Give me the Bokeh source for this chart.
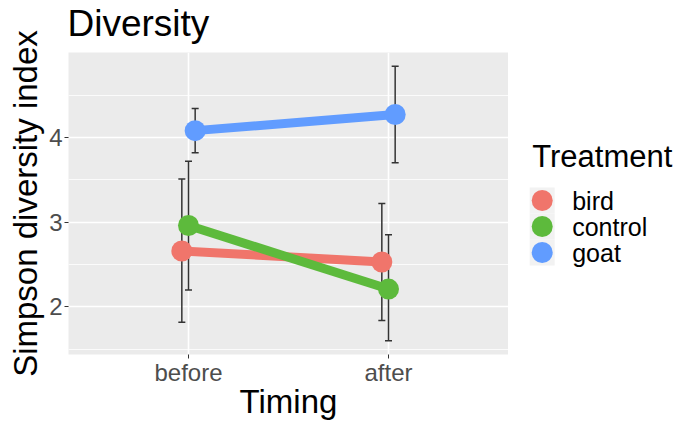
import math
from bokeh.plotting import figure
from bokeh.models import Range1d, FixedTicker, Whisker, ColumnDataSource, TeeHead
from bokeh.layouts import row, column
from bokeh.core.properties import value
from bokeh.embed import file_html
from bokeh.resources import INLINE

# ---- data ----
timing = ["before", "after"]
treatments = ["bird", "control", "goat"]
colors = ["#F0756B", "#5DBA3C", "#619CFF"]

bird_mean = [2.66, 2.53]
bird_lower = [1.82, 1.84]
bird_upper = [3.51, 3.22]

control_mean = [2.96, 2.21]
control_lower = [2.20, 1.60]
control_upper = [3.72, 2.85]

goat_mean = [4.08, 4.27]
goat_lower = [3.82, 3.70]
goat_upper = [4.34, 4.84]

y_ticks = [2, 3, 4]
y_minor = [1.5, 2.5, 3.5, 4.5]

means = [bird_mean, control_mean, goat_mean]
lowers = [bird_lower, control_lower, goat_lower]
uppers = [bird_upper, control_upper, goat_upper]

title_text = "Diversity"
x_title = "Timing"
y_title = "Simpson diversity index"
legend_title = "Treatment"

FONT = "Liberation Sans"
dodge_width = 0.1
FW, FH = 440, 302          # panel size
YL = 45                    # strip holding the y-axis title
LEFT, TOP, BOTTOM = 23, 52, 70
LW = 167
TOTAL_H = TOP + FH + BOTTOM


def bare(fig):
    fig.axis.visible = False
    fig.grid.visible = False
    fig.outline_line_color = None
    fig.background_fill_color = "white"
    fig.border_fill_color = "white"


# ---- y-axis title strip (full height, so the long title is never cut) ----
yf = figure(frame_width=YL, frame_height=TOTAL_H, x_range=Range1d(0, YL), y_range=Range1d(TOTAL_H, 0),
            output_backend="svg", toolbar_location=None,
            min_border_left=0, min_border_right=0, min_border_top=0, min_border_bottom=0)
bare(yf)
yf.text(x=[25], y=[TOP + FH / 2], text=[y_title], angle=math.pi / 2, text_font=value(FONT),
        text_font_size="33px", text_baseline="middle", text_align="center", text_color="black")

# ---- title strip ----
TW = LEFT + FW + LW
tf = figure(frame_width=TW, frame_height=TOP, x_range=Range1d(0, TW), y_range=Range1d(TOP, 0),
            output_backend="svg", toolbar_location=None,
            min_border_left=0, min_border_right=0, min_border_top=0, min_border_bottom=0)
bare(tf)
tf.text(x=[LEFT - 1], y=[23.4], text=[title_text], text_font=value(FONT),
        text_font_size="37px", text_baseline="middle", text_align="left", text_color="black")

# ---- main panel ----
p = figure(frame_width=FW, frame_height=FH,
           x_range=Range1d(0.4, 2.6), y_range=Range1d(1.438, 5.002),
           output_backend="svg", toolbar_location=None,
           min_border_left=LEFT, min_border_right=0, min_border_top=0, min_border_bottom=BOTTOM)
p.background_fill_color = "#EBEBEB"
p.border_fill_color = "white"
p.outline_line_color = None

# grids
p.xgrid.ticker = FixedTicker(ticks=[i + 1 for i in range(len(timing))])
p.xgrid.grid_line_color = "white"
p.xgrid.grid_line_width = 1.6
p.ygrid.ticker = FixedTicker(ticks=y_ticks, minor_ticks=y_minor)
p.ygrid.grid_line_color = "white"
p.ygrid.grid_line_width = 1.6
p.ygrid.minor_grid_line_color = "white"
p.ygrid.minor_grid_line_width = 0.8

# axes
p.xaxis.ticker = FixedTicker(ticks=[i + 1 for i in range(len(timing))])
p.xaxis.major_label_overrides = {i + 1: t for i, t in enumerate(timing)}
p.yaxis.ticker = FixedTicker(ticks=y_ticks)
p.xaxis.axis_label = x_title
for ax in (p.xaxis[0], p.yaxis[0]):
    ax.axis_line_color = None
    ax.major_tick_line_color = "#333333"
    ax.major_tick_out = 4
    ax.major_tick_in = 0
    ax.minor_tick_line_color = None
    ax.major_label_text_font = FONT
    ax.major_label_text_font_size = "24px"
    ax.major_label_text_color = "#4D4D4D"
    ax.axis_label_text_font = FONT
    ax.axis_label_text_font_size = "33px"
    ax.axis_label_text_font_style = "normal"
    ax.axis_label_text_color = "black"
p.xaxis.major_label_standoff = 0
p.xaxis.axis_label_standoff = -6
p.yaxis.major_label_standoff = 2

n = len(treatments)
offsets = [(i - (n - 1) / 2) * dodge_width / n for i in range(n)]

sources = []
for k in range(n):
    xs = [i + 1 + offsets[k] for i in range(len(timing))]
    src = ColumnDataSource(dict(x=xs, y=means[k], lower=lowers[k], upper=uppers[k]))
    sources.append(src)

for k in range(n):
    w = Whisker(source=sources[k], base="x", lower="lower", upper="upper", dimension="height",
                line_color="#333333", line_width=1.5,
                upper_head=TeeHead(size=7, line_color="#333333", line_width=1.5),
                lower_head=TeeHead(size=7, line_color="#333333", line_width=1.5),
                level="underlay")
    p.add_layout(w)

for k in range(n):
    p.line("x", "y", source=sources[k], line_width=9, line_color=colors[k])
for k in range(n):
    p.scatter("x", "y", source=sources[k], size=21, fill_color=colors[k], line_color=None)

# ---- legend panel (frame aligned with the main panel; units = pixels from frame top) ----
leg = figure(frame_width=LW, frame_height=FH, x_range=Range1d(0, LW), y_range=Range1d(FH, 0),
             output_backend="svg", toolbar_location=None,
             min_border_left=0, min_border_right=0, min_border_top=0, min_border_bottom=BOTTOM)
bare(leg)

key_y = [148 + 26 * i for i in range(n)]
leg.text(x=[23.7], y=[104], text=[legend_title], text_font=value(FONT),
         text_font_size="31px", text_baseline="middle", text_align="left", text_color="black")
leg.rect(x=[33.7] * n, y=key_y, width=25, height=26, fill_color="#F2F2F2", line_color=None)
leg.scatter(x=[33.7] * n, y=key_y, size=21, fill_color=colors, line_color=None)
leg.text(x=[63.7] * n, y=key_y, text=treatments, text_font=value(FONT),
         text_font_size="25px", text_baseline="middle", text_align="left", text_color="black")

layout = row(yf, column(tf, row(p, leg, spacing=0), spacing=0), spacing=0)
open("out.html", "w").write(file_html(layout, INLINE))
